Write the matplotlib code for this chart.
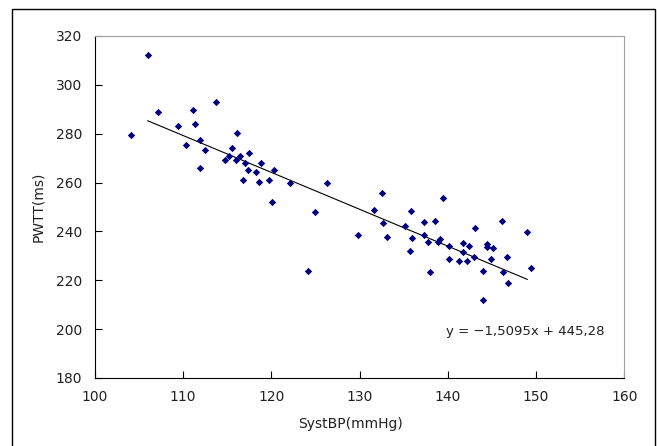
import numpy as np
import matplotlib.pyplot as plt
from matplotlib.patches import Rectangle

# SystBP (mmHg) vs PWTT (ms)
syst_bp = [104.1, 106.0, 107.2, 109.4, 110.3, 111.1, 111.3, 111.9, 111.9, 112.5,
           113.7, 114.8, 115.2, 115.5, 116.1, 116.0, 116.4, 116.75, 117.0, 117.4,
           117.5, 118.3, 118.6, 118.8, 119.7, 120.1, 120.3, 122.1, 124.1, 125.0,
           126.3, 129.8, 131.6, 132.5, 132.7, 133.1, 135.1, 135.7, 135.8, 135.9,
           137.3, 137.3, 137.7, 138.0, 138.5, 138.9, 139.1, 139.4, 140.1, 140.1,
           141.3, 141.7, 141.7, 142.2, 142.4, 143.0, 143.1, 144.0, 144.0, 144.4,
           144.4, 144.9, 145.1, 146.1, 146.2, 146.7, 146.8, 149.0, 149.4]
pwtt = [279.4, 312.1, 288.9, 283.2, 275.2, 289.5, 284.0, 277.2, 265.9, 273.4,
        293.1, 269.2, 270.7, 274.3, 280.2, 269.2, 270.7, 261.2, 267.9, 265.1,
        272.2, 264.1, 260.4, 267.9, 261.2, 252.1, 265.1, 259.6, 223.9, 247.9,
        259.6, 238.6, 248.7, 255.8, 243.3, 237.8, 242.3, 231.8, 248.3, 237.4,
        243.7, 238.6, 235.6, 223.5, 244.1, 235.6, 236.8, 253.8, 234.0, 228.9,
        227.7, 235.3, 231.4, 227.7, 234.0, 229.6, 241.5, 223.9, 211.8, 234.9,
        233.6, 228.5, 233.2, 244.1, 223.5, 229.4, 218.9, 239.8, 224.9]

slope = -1.5095
intercept = 445.28
trend_x = [106.0, 149.0]

x_ticks = [100, 110, 120, 130, 140, 150, 160]
y_ticks = [180, 200, 220, 240, 260, 280, 300, 320]

plt.rcParams['font.family'] = ['DejaVu Sans']

fig = plt.figure(figsize=(6.57, 4.46), dpi=100)
# outer chart frame (runs off the bottom edge, as in the original)
fig.patches.append(Rectangle((12 / 657, -0.05), 643 / 657, 1.05 - 9 / 446,
                             transform=fig.transFigure, fill=False,
                             edgecolor='black', linewidth=1.0))
ax = fig.add_axes([0.1443, 0.1525, 0.806, 0.767])

ax.scatter(syst_bp, pwtt, marker='D', s=14, color='#000080', linewidths=0, zorder=3)

tx = np.array(trend_x)
ax.plot(tx, slope * tx + intercept, color='black', linewidth=0.8, zorder=2)

eq = "y = " + f"{slope:.4f}".replace('.', ',').replace('-', '\u2212') + "x + " \
     + f"{intercept:.2f}".replace('.', ',')
ax.text(139.8, 199.2, eq, ha='left', va='center', fontsize=9.5, color='#202020')

ax.set_xlim(100, 160)
ax.set_ylim(180, 320)
ax.set_xticks(x_ticks)
ax.set_yticks(y_ticks)
ax.tick_params(direction='in', length=5, width=0.8, labelsize=10,
               labelcolor='#202020')
ax.tick_params(axis='x', pad=9)
ax.tick_params(axis='y', pad=9)
ax.set_xlabel("SystBP(mmHg)", fontsize=10, labelpad=7, color='#202020')
ax.set_ylabel("PWTT(ms)", fontsize=10, labelpad=8, color='#202020')
ax.xaxis.set_label_coords(0.482, -0.115)

ax.spines['top'].set_color('#a0a0a0')
ax.spines['right'].set_color('#a0a0a0')
for s in ['left', 'bottom']:
    ax.spines[s].set_color('black')

fig.savefig("out.png", dpi=100)
